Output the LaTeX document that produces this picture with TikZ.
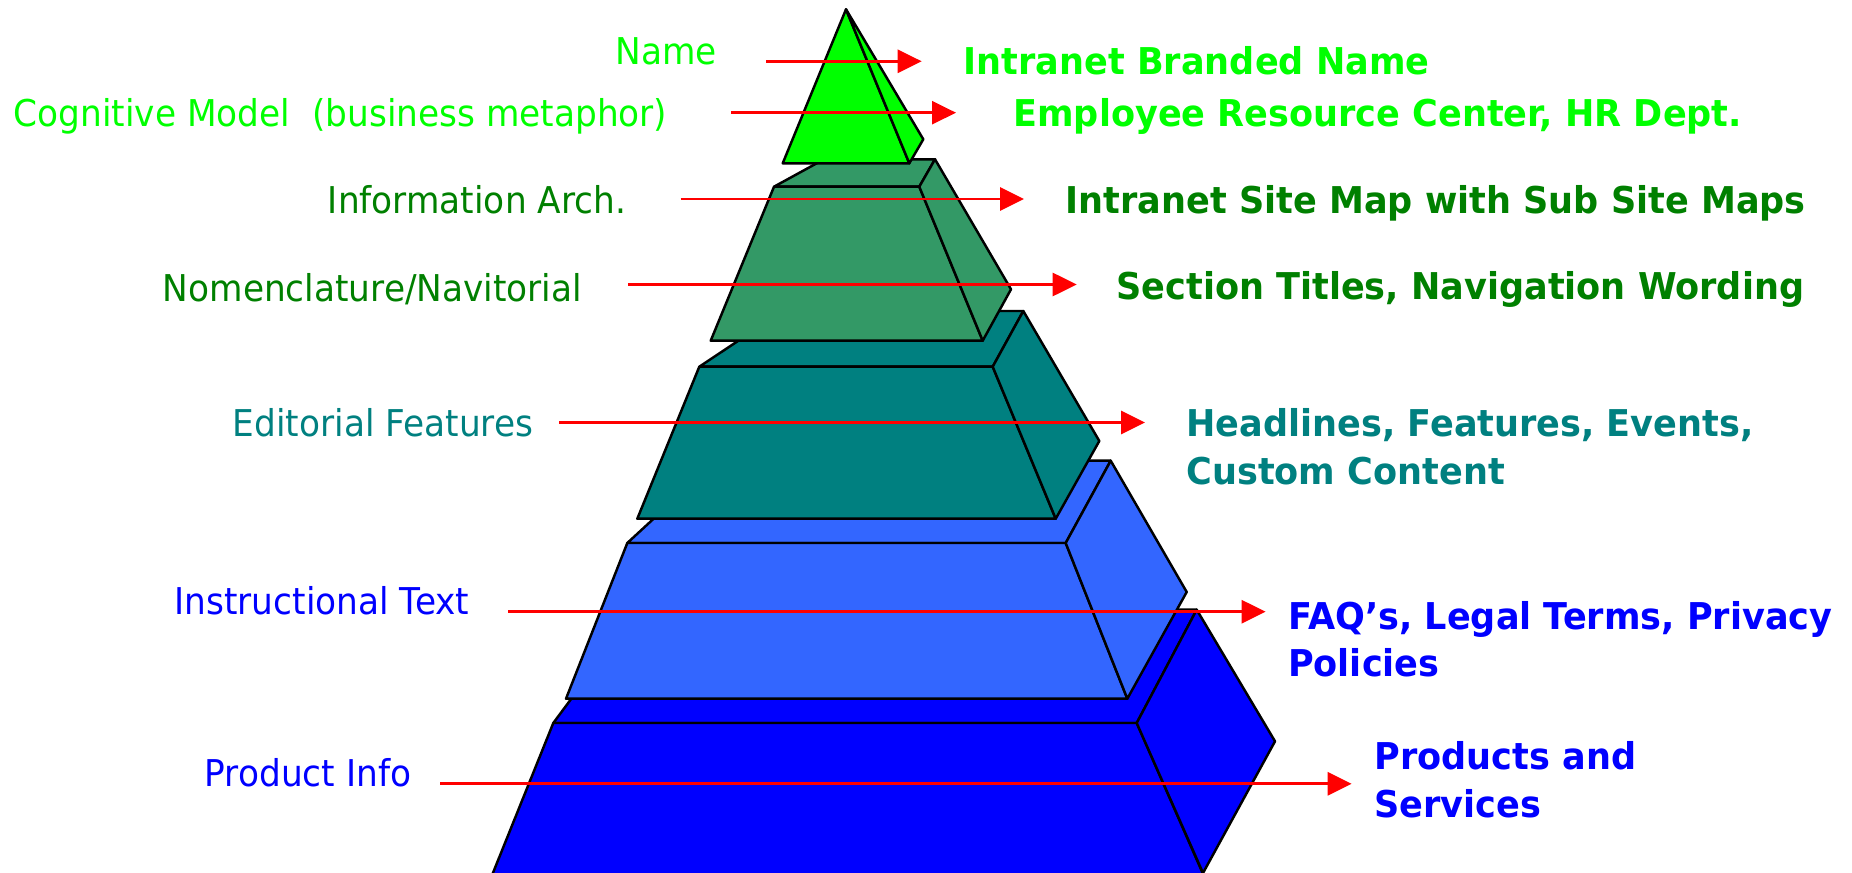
\documentclass[tikz,border=0pt]{standalone}
\usepackage{fontspec}
\setmainfont{DejaVu Sans}
\newfontfamily\leftFont{DejaVu Sans}[FakeStretch=0.93]
\newfontfamily\rightFont{DejaVu Sans}[FakeStretch=0.95]
\usetikzlibrary{arrows.meta}
\definecolor{tierOne}{HTML}{00FF00}
\definecolor{tierTwo}{HTML}{339966}
\definecolor{tierThree}{HTML}{008080}
\definecolor{tierFour}{HTML}{3366FF}
\definecolor{tierFive}{HTML}{0000FF}
\definecolor{brandColor}{HTML}{00FF00}
\definecolor{archColor}{HTML}{008000}
\definecolor{editColor}{HTML}{008080}
\definecolor{infoColor}{HTML}{0000FF}
\definecolor{arrowRed}{HTML}{FF0000}

\begin{document}
\begin{tikzpicture}[
    x=0.01cm, y=-0.01cm,
    % Face Styles
    face/.style={
        draw=black,
        line width=0.7pt,
        line join=round
    },
    % Text Styles
    leftLabel/.style={
        anchor=base,
        inner sep=0pt,
        font=\leftFont\fontsize{10.5}{13.55}\selectfont
    },
    rightLabel/.style={
        anchor=base west,
        inner sep=0pt,
        align=left,
        font=\rightFont\bfseries\fontsize{10.5}{13.55}\selectfont
    },
    % Line Styles
    connector/.style={
        -{Triangle[length=0.24cm,width=0.23cm]},
        line width=0.8pt,
        color=arrowRed
    }
]

    % --- PAGE FRAME ---
    \clip (0,0) rectangle (1852,873);

    % --- PYRAMID (bottom tier first) ---
    % Tier 5: product info
    \filldraw[face, fill=tierFive] (553.3,723) -- (637.4,609.7) -- (1196.7,609.7) -- (1136.7,723) -- cycle;
    \filldraw[face, fill=tierFive] (553.3,723) -- (1136.7,723) -- (1207,883) -- (488.9,883) -- cycle;
    \filldraw[face, fill=tierFive] (1136.7,723) -- (1196.7,609.7) -- (1275,741.3) -- (1203,873) -- cycle;

    % Tier 4: instructional text
    \filldraw[face, fill=tierFour] (627.3,543) -- (716.5,460.7) -- (1110.7,460.7) -- (1065.7,543) -- cycle;
    \filldraw[face, fill=tierFour] (627.3,543) -- (1065.7,543) -- (1127.3,698.7) -- (566,698.7) -- cycle;
    \filldraw[face, fill=tierFour] (1065.7,543) -- (1110.7,460.7) -- (1186.7,592) -- (1127.3,698.7) -- cycle;

    % Tier 3: editorial features
    \filldraw[face, fill=tierThree] (699.3,366.7) -- (783,311) -- (1023.3,311) -- (992.7,366.7) -- cycle;
    \filldraw[face, fill=tierThree] (699.3,366.7) -- (992.7,366.7) -- (1055.7,518.7) -- (637.3,518.7) -- cycle;
    \filldraw[face, fill=tierThree] (992.7,366.7) -- (1023.3,311) -- (1099.3,441) -- (1055.7,518.7) -- cycle;

    % Tier 2: information arch. and nomenclature
    \filldraw[face, fill=tierTwo] (774,186.7) -- (824,159.3) -- (935,159.3) -- (919.3,186.7) -- cycle;
    \filldraw[face, fill=tierTwo] (774,186.7) -- (919.3,186.7) -- (982.7,340.7) -- (710.7,340.7) -- cycle;
    \filldraw[face, fill=tierTwo] (919.3,186.7) -- (935,159.3) -- (1011,289.3) -- (982.7,340.7) -- cycle;

    % Tier 1: the tip
    \filldraw[face, fill=tierOne] (846,9.3) -- (909.3,163.3) -- (782.7,163.3) -- cycle;
    \filldraw[face, fill=tierOne] (846,9.3) -- (923.3,139.3) -- (909.3,163.3) -- cycle;

    % --- LEFT LABELS ---
    \node[leftLabel, text=brandColor] (nameL) at (666,64.3) {Name};
    \node[leftLabel, text=brandColor] (cogL) at (340.5,126.7) {Cognitive Model\ \ (business metaphor)};
    \node[leftLabel, text=archColor] (archL) at (477,214) {Information Arch.};
    \node[leftLabel, text=archColor] (nomenL) at (372.5,301.7) {Nomenclature/Navitorial};
    \node[leftLabel, text=editColor] (editL) at (383,436.7) {Editorial Features};
    \node[leftLabel, text=infoColor] (instrL) at (322,614.3) {Instructional Text};
    \node[leftLabel, text=infoColor] (prodL) at (308,786.7) {Product Info};

    % --- RIGHT LABELS ---
    % (two-line labels sit on the baseline of their last line)
    \node[rightLabel, text=brandColor] (nameR) at (963,75) {Intranet Branded Name};
    \node[rightLabel, text=brandColor] (cogR) at (1012.7,126.7) {Employee Resource Center, HR Dept.};
    \node[rightLabel, text=archColor] (archR) at (1065,213.3) {Intranet Site Map with Sub Site Maps};
    \node[rightLabel, text=archColor] (nomenR) at (1115.7,299) {Section Titles, Navigation Wording};
    \node[rightLabel, text=editColor] (editR) at (1185.8,484.3) {Headlines, Features, Events,\\Custom Content};
    \node[rightLabel, text=infoColor] (instrR) at (1287.4,676.7) {FAQ’s, Legal Terms, Privacy\\Policies};
    \node[rightLabel, text=infoColor] (prodR) at (1373.8,817.3) {Products and\\Services};

    % --- CONNECTIONS ---
    \coordinate (nameA) at (766,61.3);   \coordinate (nameB) at (921.7,61.3);
    \coordinate (cogA) at (731,112.7);   \coordinate (cogB) at (956,112.7);
    \coordinate (archA) at (680.6,199);  \coordinate (archB) at (1024,199);
    \coordinate (nomenA) at (628,284.5); \coordinate (nomenB) at (1076.7,284.5);
    \coordinate (editA) at (559.3,422.5); \coordinate (editB) at (1145,422.5);
    \coordinate (instrA) at (508.3,611.7); \coordinate (instrB) at (1265.6,611.7);
    \coordinate (prodA) at (440,783.8);  \coordinate (prodB) at (1351.6,783.8);

    \draw[connector] (nameA) -- (nameB);
    \draw[connector] (cogA) -- (cogB);
    \draw[connector] (archA) -- (archB);
    \draw[connector] (nomenA) -- (nomenB);
    \draw[connector] (editA) -- (editB);
    \draw[connector] (instrA) -- (instrB);
    \draw[connector] (prodA) -- (prodB);

\end{tikzpicture}
\end{document}
